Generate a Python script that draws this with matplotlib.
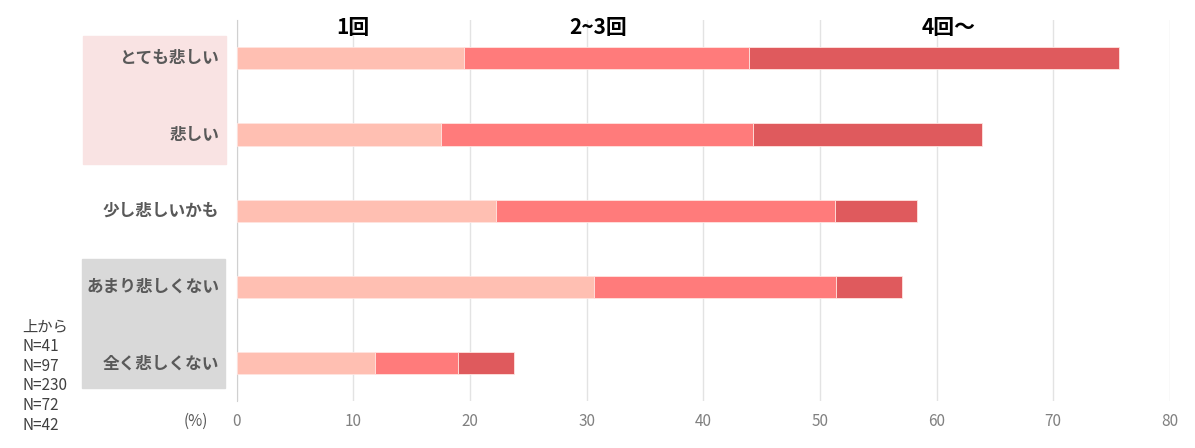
import matplotlib
matplotlib.use('Agg')
import matplotlib.pyplot as plt
from matplotlib.patches import Rectangle
import matplotlib.transforms as mtransforms

plt.rcParams['font.family'] = ['Noto Sans CJK JP', 'DejaVu Sans']

# data (%), top to bottom
categories = ['とても悲しい', '悲しい', '少し悲しいかも', 'あまり悲しくない', '全く悲しくない']
once = [19.5, 17.5, 22.2, 30.6, 11.9]
two_three = [24.4, 26.8, 29.1, 20.8, 7.1]
four_plus = [31.7, 19.6, 7.0, 5.6, 4.8]
series_names = ['1回', '2~3回', '4回〜']
note = '上から\nN=41\nN=97\nN=230\nN=72\nN=42'
xticks = [0, 10, 20, 30, 40, 50, 60, 70, 80]

colors = ['#FFBFB2', '#FF7B7B', '#DF5A5D']

fig = plt.figure(figsize=[11.95, 4.48], dpi=100)
ax = fig.add_axes([0.198, 0.104, 0.781, 0.851])

y = list(range(len(categories)))
left = [0] * len(categories)
for vals, c in zip([once, two_three, four_plus], colors):
    ax.barh(y, vals, left=left, height=0.29, color=c,
            edgecolor='#FFE4E0', linewidth=0.6, zorder=3)
    left = [a + b for a, b in zip(left, vals)]

ax.set_ylim(4.5, -0.5)
ax.set_xlim(0, 80)
ax.set_xticks(xticks)
ax.set_xticklabels([str(t) for t in xticks], color='#808080', fontsize=11)
ax.set_yticks([])
ax.tick_params(axis='x', length=0, pad=8)
ax.grid(axis='x', color='#E3E3E3', linewidth=1, zorder=0)
for s in ['top', 'right', 'bottom']:
    ax.spines[s].set_visible(False)
ax.spines['left'].set_color('#D0D0D0')

# category labels with background boxes
fig.patches.append(Rectangle((83 / 1195, 1 - 164 / 448), 143 / 1195, 128 / 448,
                             transform=fig.transFigure, color='#F9E3E3', zorder=0))
fig.patches.append(Rectangle((82 / 1195, 1 - 388 / 448), 143 / 1195, 129 / 448,
                             transform=fig.transFigure, color='#D9D9D9', zorder=0))
trans = mtransforms.blended_transform_factory(fig.transFigure, ax.transData)
for i, cat in enumerate(categories):
    fig.text(219 / 1195, i, cat, transform=trans, ha='right', va='center',
             fontsize=12, fontweight='bold', color='#595959')

# series headers
trans_top = mtransforms.blended_transform_factory(ax.transData, fig.transFigure)
for xpos, name in zip([10, 31, 61], series_names):
    ax.text(xpos, 1 - 27 / 448, name, transform=trans_top, ha='center', va='center',
            fontsize=15, fontweight='bold', color='black')

fig.text(208 / 1195, 1 - 421 / 448, '(%)', ha='right', va='center',
         fontsize=11, color='#595959')
fig.text(22 / 1195, 1 - 376 / 448, note, ha='left', va='center',
         fontsize=11, color='#404040', linespacing=1.2)

fig.savefig('out.png', dpi=100)
